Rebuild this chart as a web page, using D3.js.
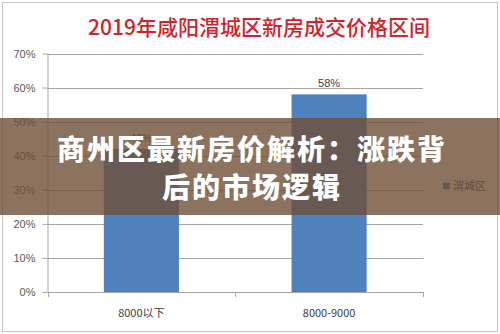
<!DOCTYPE html>
<html>
<head>
<meta charset="utf-8">
<script src="https://cdn.jsdelivr.net/npm/d3@7"></script>
<style>
  html, body { margin: 0; padding: 0; background: #fff; }
  svg { display: block; }
</style>
</head>
<body>
<svg id="chart" width="500" height="334"></svg>
<script>
// Price bands and share of new-home sales in each band
const categories = ["8000以下", "8000-9000"];
const shares = [42, 58];
const yTicks = [0, 10, 20, 30, 40, 50, 60, 70];
const seriesName = "渭城区";
const chartTitle = "2019年咸阳渭城区新房成交价格区间";
const bannerLines = ["商州区最新房价解析：涨跌背", "后的市场逻辑"];

const svg = d3.select("#chart");
const W = 500, H = 334;
const font = "'Noto Sans CJK SC', 'Noto Sans', sans-serif";

// outer frame
svg.append("rect")
  .attr("x", 2.5).attr("y", 2.5).attr("width", W - 5).attr("height", H - 5)
  .attr("fill", "#fff").attr("stroke", "#c4c4c4").attr("stroke-width", 1);

// title
svg.append("text")
  .attr("x", 259).attr("y", 35)
  .attr("text-anchor", "middle")
  .attr("font-family", font)
  .attr("font-size", 21)
  .attr("font-weight", 500)
  .attr("fill", "#d2232a")
  .text(chartTitle);

const plot = { left: 47.5, right: 423, top: 53.5, bottom: 292 };

const x = d3.scaleBand()
  .domain(categories)
  .range([plot.left, plot.right])
  .paddingInner(0.6)
  .paddingOuter(0.3);

const y = d3.scaleLinear()
  .domain([0, 70])
  .range([plot.bottom, plot.top]);

// horizontal gridlines
svg.append("g")
  .selectAll("line")
  .data(yTicks.filter(t => t > 0))
  .join("line")
  .attr("x1", plot.left).attr("x2", plot.right)
  .attr("y1", d => Math.round(y(d)) + 0.5).attr("y2", d => Math.round(y(d)) + 0.5)
  .attr("stroke", "#a6a6a6").attr("stroke-width", 1);

// y axis
const yAxis = d3.axisLeft(y)
  .tickValues(yTicks)
  .tickFormat(d => d + "%")
  .tickSize(5)
  .tickPadding(7);
const gy = svg.append("g")
  .attr("transform", `translate(${plot.left},0)`)
  .call(yAxis);
gy.select(".domain").attr("stroke", "#a6a6a6").attr("d", `M0.5,${plot.top}V${plot.bottom}`);
gy.selectAll(".tick line").attr("stroke", "#a6a6a6");
gy.selectAll(".tick text")
  .attr("font-family", "'Liberation Sans', Arial, sans-serif")
  .attr("font-size", 11)
  .attr("fill", "#595959");

// bars
svg.append("g")
  .selectAll("rect")
  .data(shares)
  .join("rect")
  .attr("x", (d, i) => x(categories[i]))
  .attr("y", d => y(d))
  .attr("width", x.bandwidth())
  .attr("height", d => plot.bottom - y(d))
  .attr("fill", "#4f81bd");

// data labels
svg.append("g")
  .selectAll("text")
  .data(shares)
  .join("text")
  .attr("x", (d, i) => x(categories[i]) + x.bandwidth() / 2)
  .attr("y", d => y(d) - 7)
  .attr("text-anchor", "middle")
  .attr("font-family", "'Liberation Sans', Arial, sans-serif")
  .attr("font-size", 11)
  .attr("fill", "#404040")
  .text(d => d + "%");

// x axis line with boundary ticks
const xEdge = d3.scaleLinear().domain([0, categories.length]).range([plot.left, plot.right]);
const gx = svg.append("g");
gx.append("line")
  .attr("x1", plot.left).attr("x2", plot.right)
  .attr("y1", plot.bottom + 0.5).attr("y2", plot.bottom + 0.5)
  .attr("stroke", "#a6a6a6");
gx.selectAll(".edge")
  .data(d3.range(categories.length + 1))
  .join("line")
  .attr("class", "edge")
  .attr("x1", d => Math.round(xEdge(d)) + 0.5).attr("x2", d => Math.round(xEdge(d)) + 0.5)
  .attr("y1", plot.bottom).attr("y2", plot.bottom + 5)
  .attr("stroke", "#a6a6a6");
gx.selectAll(".cat")
  .data(categories)
  .join("text")
  .attr("class", "cat")
  .attr("x", d => x(d) + x.bandwidth() / 2)
  .attr("y", 317)
  .attr("text-anchor", "middle")
  .attr("font-family", font)
  .attr("font-size", 11)
  .attr("fill", "#404040")
  .text(d => d);

// legend
const lg = svg.append("g").attr("transform", "translate(443,186)");
lg.append("rect").attr("x", 0).attr("y", -3.5).attr("width", 7).attr("height", 7).attr("fill", "#4f81bd");
lg.append("text")
  .attr("x", 10).attr("y", 4)
  .attr("font-family", font)
  .attr("font-size", 11)
  .attr("fill", "#404040")
  .text(seriesName);

// headline banner across the middle
const banner = svg.append("g");
banner.append("rect")
  .attr("x", 0).attr("y", 118).attr("width", W).attr("height", 97)
  .attr("fill", "rgb(110,80,55)").attr("fill-opacity", 0.8);
banner.selectAll("text")
  .data(bannerLines)
  .join("text")
  .attr("x", 252)
  .attr("y", (d, i) => 160 + i * 38)
  .attr("text-anchor", "middle")
  .attr("font-family", font)
  .attr("font-size", 28)
  .attr("font-weight", 900)
  .attr("letter-spacing", 2)
  .attr("fill", "#ffffff")
  .text(d => d);
</script>
</body>
</html>
